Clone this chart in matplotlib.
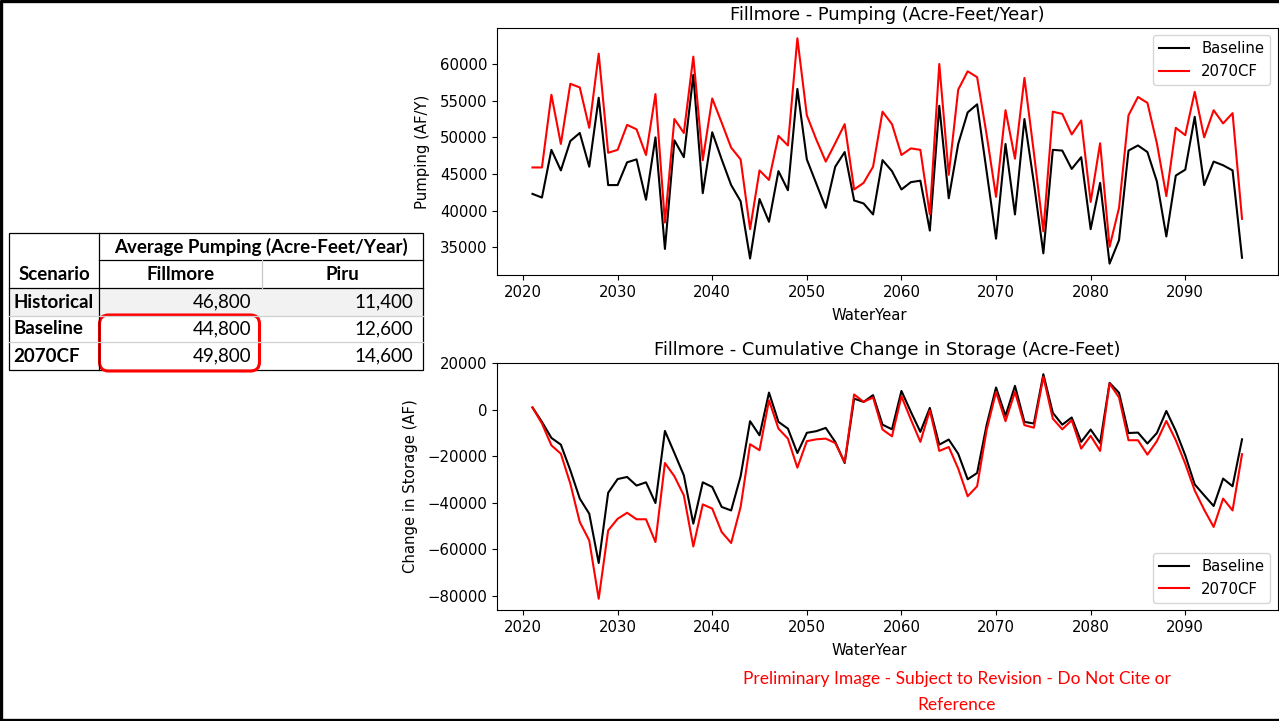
import matplotlib

matplotlib.use("Agg")
import matplotlib.pyplot as plt
from matplotlib.patches import FancyBboxPatch, Rectangle

years = list(range(2021, 2097))

pumping_baseline = [
    42300, 41800, 48300, 45500, 49500, 50600, 46000, 55400, 43500, 43500,
    46600, 47000, 41500, 50000, 34800, 49600, 47300, 58500, 42400, 50700,
    47000, 43500, 41300, 33500, 41600, 38500, 45400, 42800, 56600, 47000,
    43700, 40400, 46000, 48000, 41400, 41000, 39500, 46900, 45400, 42900,
    43900, 44100, 37300, 54300, 41700, 49100, 53400, 54500, 45400, 36200,
    49100, 39500, 52500, 43800, 34200, 48300, 48200, 45700, 47300, 37500,
    43800, 32800, 36000, 48200, 48900, 48000, 44000, 36500, 44800, 45600,
    52800, 43500, 46700, 46200, 45500, 33600,
]
pumping_2070cf = [
    45900, 45900, 55800, 49100, 57300, 56800, 51300, 61400, 47900, 48300,
    51700, 51100, 47600, 55900, 38400, 52500, 50600, 61000, 46900, 55300,
    52000, 48600, 47000, 37500, 45500, 44200, 50200, 48900, 63500, 53000,
    49700, 46700, 49200, 51800, 42900, 43800, 46000, 53500, 51800, 47600,
    48500, 48300, 39500, 60000, 44900, 56500, 59000, 58200, 50400, 41900,
    53700, 47100, 58100, 47900, 37200, 53500, 53200, 50400, 52300, 41200,
    49200, 35100, 40400, 53000, 55500, 54700, 49200, 42000, 51300, 50300,
    56200, 50000, 53700, 51900, 53300, 38900,
]
storage_baseline = [
    900, -5300, -12200, -15100, -26100, -38300, -44800, -66000, -35800, -29900,
    -29000, -32700, -31300, -40200, -9200, -18700, -28300, -49100, -31300, -33300,
    -41900, -43400, -28700, -5000, -11100, 7300, -5300, -8200, -18700, -10000,
    -9300, -7900, -13900, -23000, 4700, 3300, 6200, -6500, -8500, 8000,
    -1000, -9600, 700, -15100, -12900, -19000, -30000, -27300, -6700, 9500,
    -2700, 10200, -5300, -6000, 15200, -1400, -6500, -3400, -13900, -8600,
    -14400, 11500, 7200, -10100, -9900, -14600, -10100, -600, -9200, -19700,
    -32200, -36900, -41500, -29700, -33000, -12800,
]
storage_2070cf = [
    900, -6000, -15400, -19000, -31900, -48400, -56300, -81400, -52000, -47000,
    -44400, -47200, -47200, -57000, -23000, -28700, -36900, -58900, -40800, -42600,
    -52700, -57400, -41900, -14900, -17500, 4000, -8200, -12500, -25000, -13600,
    -12800, -12500, -14400, -22700, 6500, 3300, 5200, -8600, -11500, 5700,
    -4300, -13900, -300, -17800, -16100, -25400, -37300, -33000, -8900, 7600,
    -5000, 7600, -6700, -7800, 14100, -3900, -8500, -4600, -16800, -11300,
    -17800, 11200, 5200, -13200, -13200, -19400, -13600, -4900, -13200, -23300,
    -34800, -43100, -50500, -38300, -43400, -19200,
]

table_scenarios = ["Historical", "Baseline", "2070CF"]
table_fillmore = ["46,800", "44,800", "49,800"]
table_piru = ["11,400", "12,600", "14,600"]

plt.rcParams["font.size"] = 10.75

W, H = 1279, 721
fig = plt.figure(figsize=(W / 100, H / 100), dpi=100)

# overlay in pixel coordinates for the table, border and note
over = fig.add_axes([0, 0, 1, 1], zorder=0)
over.set_xlim(0, W)
over.set_ylim(H, 0)
over.axis("off")


def px_axes(left, top, right, bottom):
    return fig.add_axes([left / W, 1 - bottom / H, (right - left) / W, (bottom - top) / H], zorder=1)


ax1 = px_axes(497, 28, 1277.5, 275)
ax1.plot(years, pumping_baseline, color="black", label="Baseline")
ax1.plot(years, pumping_2070cf, color="red", label="2070CF")
ax1.set_title("Fillmore - Pumping (Acre-Feet/Year)", fontsize=12.9)
ax1.set_ylabel("Pumping (AF/Y)", labelpad=7)
ax1.set_ylim(31250, 64900)
ax1.legend(loc="upper right")

ax2 = px_axes(497, 363, 1277.5, 610)
ax2.plot(years, storage_baseline, color="black", label="Baseline")
ax2.plot(years, storage_2070cf, color="red", label="2070CF")
ax2.set_title("Fillmore - Cumulative Change in Storage (Acre-Feet)", fontsize=12.9)
ax2.set_ylabel("Change in Storage (AF)", labelpad=7)
ax2.legend(loc="lower right")

for ax in (ax1, ax2):
    ax.set_xlabel("WaterYear")
    ax.xaxis.set_label_coords(0.4765, -0.135)
    ax.tick_params(labelsize=10.75)

# outer frame (no right edge in the reference)
frame = dict(color="black", lw=2.4, solid_capstyle="butt")
over.plot([0, W], [1.2, 1.2], **frame)
over.plot([1.2, 1.2], [0, H], **frame)
over.plot([0, W], [719.8, 719.8], **frame)

# summary table
tfont = dict(family=["Lato", "DejaVu Sans"], fontsize=13.5)
left, c1, c2, right = 9, 99, 262, 423
rows_y = [233, 260, 288, 316, 342, 370]
over.add_patch(Rectangle((left, rows_y[2]), right - left, rows_y[3] - rows_y[2],
                         facecolor="#f2f2f2", edgecolor="none"))
over.add_patch(Rectangle((left, rows_y[0]), right - left, rows_y[-1] - rows_y[0],
                         facecolor="none", edgecolor="black", lw=0.9))
over.plot([c1, c1], [rows_y[0], rows_y[-1]], color="black", lw=0.9)
over.plot([c1, right], [rows_y[1], rows_y[1]], color="black", lw=0.9)
over.plot([left, right], [rows_y[2], rows_y[2]], color="black", lw=0.9)
over.plot([c2, c2], [rows_y[1], rows_y[2]], color="#c8c8c8", lw=0.9)
for y in rows_y[3:5]:
    over.plot([left, right], [y, y], color="#d0d0d0", lw=0.9)

over.text((c1 + right) / 2, 247, "Average Pumping (Acre-Feet/Year)", ha="center", va="center",
          fontweight="bold", **tfont)
over.text((left + c1) / 2, 274.5, "Scenario", ha="center", va="center", fontweight="bold", **tfont)
over.text((c1 + c2) / 2, 274.5, "Fillmore", ha="center", va="center", fontweight="bold", **tfont)
over.text((c2 + right) / 2, 274.5, "Piru", ha="center", va="center", fontweight="bold", **tfont)
for i, (name, fil, piru) in enumerate(zip(table_scenarios, table_fillmore, table_piru)):
    yc = (rows_y[i + 2] + rows_y[i + 3]) / 2
    over.text(13.5, yc, name, ha="left", va="center", fontweight="bold", **tfont)
    over.text(251, yc, fil, ha="right", va="center", **tfont)
    over.text(413, yc, piru, ha="right", va="center", **tfont)

over.add_patch(FancyBboxPatch((99.5, 315), 160, 56,
                              boxstyle="round,pad=0,rounding_size=9",
                              facecolor="none", edgecolor="red", lw=2.2))

note = dict(family=["Lato", "DejaVu Sans"], fontsize=12.5, color="red", ha="center", va="center")
over.text(957, 679, "Preliminary Image - Subject to Revision - Do Not Cite or", **note)
over.text(957, 705, "Reference", **note)

fig.savefig("out.png", dpi=100)
